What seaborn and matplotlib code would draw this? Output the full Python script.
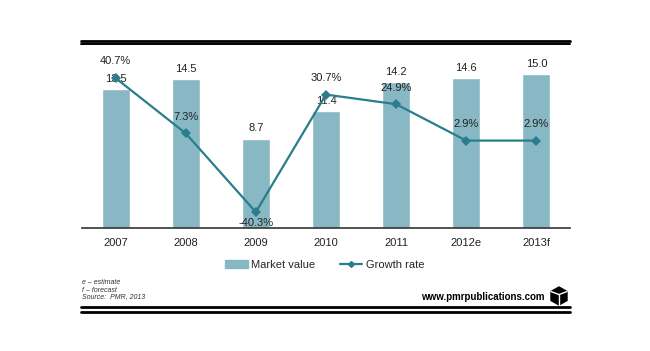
import pandas as pd
import matplotlib.pyplot as plt
import matplotlib.lines as mlines
import matplotlib.patches as mpatches
import seaborn as sns

# 数据
years = ['2007', '2008', '2009', '2010', '2011', '2012e', '2013f']
market_value = [13.5, 14.5, 8.7, 11.4, 14.2, 14.6, 15.0]
growth_rate = [40.7, 7.3, -40.3, 30.7, 24.9, 2.9, 2.9]

bar_color = '#88b8c3'
line_color = '#2a7d8c'

df = pd.DataFrame({'year': years, 'value': market_value, 'growth': growth_rate})

sns.set_style('white')
plt.rcParams['font.family'] = ['Liberation Sans', 'DejaVu Sans']

fig = plt.figure(figsize=(6.5, 3.51), dpi=100)
ax = fig.add_axes([0.126, 0.350, 0.751, 0.513])

sns.barplot(x='year', y='value', data=df, color=bar_color, width=0.4,
            saturation=1, ax=ax)
ax.set_ylim(0, 17.5)

# 柱上标注数值
for p, v in zip(ax.patches, market_value):
    ax.text(p.get_x() + p.get_width() / 2., p.get_height() + 0.5,
            f'{v:.1f}', ha='center', va='bottom', fontsize=8, color='#222222')

ax2 = ax.twinx()
sns.lineplot(x='year', y='growth', data=df, color=line_color, marker='D',
             markersize=5, markeredgewidth=0, linewidth=1.6, ax=ax2, sort=False)
ax2.set_ylim(-50, 58.8)

# 增长率标注
offsets = [(0, 7), (0, 7), (0, -3.5), (0, 7), (0, 7), (0, 7), (0, 7)]
for i, (g, (dx, dy)) in enumerate(zip(growth_rate, offsets)):
    ax2.text(i + dx, g + dy, f'{g:.1f}%', ha='center',
             va='bottom' if dy > 0 else 'top', fontsize=8, color='#222222')

for a in (ax, ax2):
    for s in ['top', 'left', 'right']:
        a.spines[s].set_visible(False)
    a.set_yticks([])
    a.set_ylabel('')
ax2.spines['bottom'].set_visible(False)
ax.spines['bottom'].set_color('#333333')
ax.spines['bottom'].set_linewidth(1.2)
ax.set_xlabel('')
ax.tick_params(axis='x', length=0, labelsize=8, pad=7, colors='#222222')
ax.set_xlim(-0.48, 6.48)

# 图例
handles = [mpatches.Patch(color=bar_color, label='Market value'),
           mlines.Line2D([], [], color=line_color, marker='D', markersize=3,
                         linewidth=1.6, label='Growth rate')]
fig.legend(handles=handles, loc='center', bbox_to_anchor=(0.5, 0.245), ncol=2,
           frameon=False, fontsize=8, handlelength=2.0, columnspacing=2.2,
           handletextpad=0.35)

# 上下双线
for y, lw in [(1 - 40.5 / 351, 2.0), (1 - 43.5 / 351, 1.4),
              (1 - 307 / 351, 2.0), (1 - 311.5 / 351, 2.0)]:
    fig.add_artist(mlines.Line2D([0.125, 0.877], [y, y], color='black', lw=lw))

# 注释
fig.text(0.126, 1 - 283 / 351, 'e – estimate', fontsize=5, style='italic',
         color='#333333', va='center')
fig.text(0.126, 1 - 290 / 351, 'f – forecast', fontsize=5, style='italic',
         color='#333333', va='center')
fig.text(0.126, 1 - 297 / 351, 'Source:  PMR, 2013', fontsize=5, style='italic',
         color='#333333', va='center')
fig.text(545 / 650, 1 - 297 / 351, 'www.pmrpublications.com', fontsize=7,
         fontweight='bold', ha='right', va='center', color='black')

# 立方体图标
cx, cy = 559 / 650, 1 - 296 / 351
w, h = 8 / 650, 9 / 351
hexagon = mpatches.Polygon([(cx, cy + h), (cx + w, cy + h / 2), (cx + w, cy - h / 2),
                            (cx, cy - h), (cx - w, cy - h / 2), (cx - w, cy + h / 2)],
                           closed=True, color='black', transform=fig.transFigure)
fig.add_artist(hexagon)
for ex, ey in [(cx - w, cy + h / 2), (cx + w, cy + h / 2), (cx, cy - h)]:
    fig.add_artist(mlines.Line2D([cx, ex], [cy + 0.004, ey], color='white', lw=1.0))

plt.savefig('out.png', dpi=100)
